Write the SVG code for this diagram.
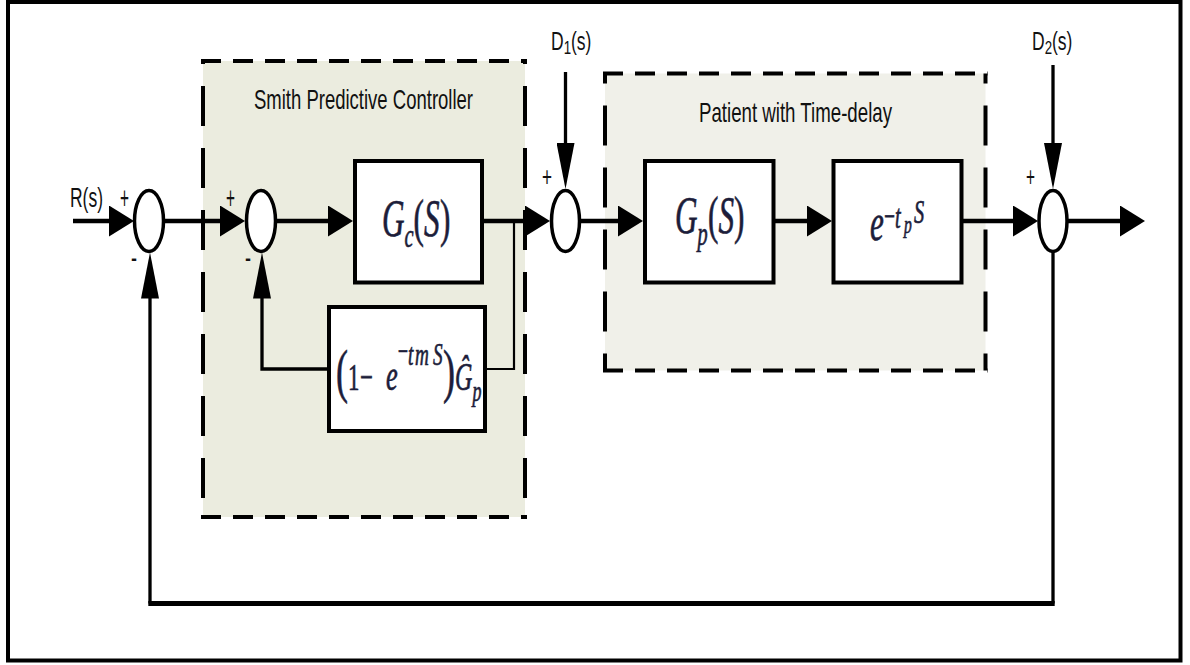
<svg xmlns="http://www.w3.org/2000/svg" width="1190" height="665" viewBox="0 0 1190 665">
  <defs>
    <!-- short, wide head for the horizontal signal lines -->
    <marker id="ah" markerUnits="userSpaceOnUse" viewBox="0 0 25 31" refX="15" refY="15.5" markerWidth="25" markerHeight="31" orient="auto">
      <path d="M0,0 L25,15.5 L0,31 Z" fill="#000"/>
    </marker>
    <!-- long, narrow head for the vertical signal lines -->
    <marker id="av" markerUnits="userSpaceOnUse" viewBox="0 0 46 18" refX="34" refY="9" markerWidth="46" markerHeight="18" orient="auto">
      <path d="M0,0 L46,9 L0,18 Z" fill="#000"/>
    </marker>
    <style>
      .frame { fill: #fff; stroke: #000; stroke-width: 4; }
      .hdash { stroke: #000; stroke-width: 4; stroke-dasharray: 20 12; fill: none; }
      .vdash { stroke: #000; stroke-width: 4; stroke-dasharray: 40 22; fill: none; }
      .blk { fill: #fff; stroke: #000; stroke-width: 4; }
      .sum { fill: #fff; stroke: #000; stroke-width: 3.5; }
      .w { fill: none; stroke: #000; stroke-width: 4.5; }
      .thin { fill: none; stroke: #000; stroke-width: 2.2; }
      .mid { fill: none; stroke: #000; stroke-width: 3.3; }
      .fbh { fill: none; stroke: #000; stroke-width: 5; }
      .arr { marker-end: url(#ah); }
      .arrv { marker-end: url(#av); }
      .lbl { font-family: "Liberation Sans", Arial, sans-serif; fill: #111; }
      .m { font-family: "Liberation Serif", "DejaVu Serif", serif; font-style: italic; fill: #1c1d3a; stroke: #1c1d3a; stroke-width: 0.7; }
      .up { font-style: normal; }
    </style>
  </defs>

  <!-- outer frame -->
  <rect class="frame" x="8" y="2" width="1172.5" height="658.5"/>

  <!-- Smith predictive controller region -->
  <g id="smith-region">
    <rect x="203" y="61" width="322" height="456" fill="#ebecdf"/>
    <line class="hdash" x1="201" y1="61" x2="527" y2="61"/>
    <line class="hdash" x1="201" y1="517" x2="527" y2="517"/>
    <line class="vdash" x1="203" y1="61" x2="203" y2="517" stroke-dashoffset="37"/>
    <line class="vdash" x1="525" y1="61" x2="525" y2="517" stroke-dashoffset="37"/>
    <text class="lbl" x="254" y="108.5" font-size="28" textLength="219" lengthAdjust="spacingAndGlyphs">Smith Predictive Controller</text>
  </g>

  <!-- plant region -->
  <g id="patient-region">
    <rect x="605" y="73.5" width="380.5" height="297" fill="#f0f0e9"/>
    <line class="hdash" x1="603" y1="73.5" x2="987.5" y2="73.5"/>
    <line class="hdash" x1="603" y1="370.5" x2="987.5" y2="370.5"/>
    <line class="vdash" x1="605" y1="73.5" x2="605" y2="370.5" stroke-dashoffset="30"/>
    <line class="vdash" x1="985.5" y1="73.5" x2="985.5" y2="370.5" stroke-dashoffset="30"/>
    <text class="lbl" x="699" y="121.5" font-size="28" textLength="193" lengthAdjust="spacingAndGlyphs">Patient with Time-delay</text>
  </g>

  <!-- signal lines -->
  <g id="connectors">
    <path class="w arr" d="M73,221 H124"/>
    <path class="w arr" d="M164,221 H235"/>
    <path class="w arr" d="M276,221 H343"/>
    <path class="w arr" d="M482,221 H540"/>
    <path class="thin" d="M514,221 V369 H487"/>
    <path class="mid arrv" d="M329,369 H262 V264.5"/>
    <path class="mid arrv" d="M565.5,72 V177"/>
    <path class="w arr" d="M580,221 H633"/>
    <path class="w arr" d="M773.5,221 H822"/>
    <path class="w arr" d="M961.5,221 H1028"/>
    <path class="mid arrv" d="M1053,65 V177"/>
    <path class="w arr" d="M1067,221 H1135"/>
    <path class="mid" d="M1053,252 V603.5"/>
    <path class="fbh" d="M1054.7,603.5 H148.3"/>
    <path class="mid arrv" d="M150,603.5 V264.5"/>
  </g>

  <!-- input / disturbance labels -->
  <g id="labels">
    <text class="lbl" x="70" y="207" font-size="27" textLength="33" lengthAdjust="spacingAndGlyphs">R(s)</text>
    <text class="lbl" font-size="25" transform="translate(551,50) scale(0.7,1)">D<tspan font-size="19" dy="4">1</tspan><tspan dy="-4">(s)</tspan></text>
    <text class="lbl" font-size="25" transform="translate(1032,50) scale(0.7,1)">D<tspan font-size="19" dy="4">2</tspan><tspan dy="-4">(s)</tspan></text>
  </g>

  <!-- summing junctions -->
  <g id="sum1">
    <ellipse class="sum" cx="149" cy="221" rx="14.5" ry="30.5"/>
    <text class="lbl" x="120" y="208.7" font-size="32" textLength="9" lengthAdjust="spacingAndGlyphs">+</text>
    <text class="lbl" x="131" y="267.5" font-size="32" textLength="6" lengthAdjust="spacingAndGlyphs">-</text>
  </g>
  <g id="sum2">
    <ellipse class="sum" cx="261" cy="221" rx="14.5" ry="30.5"/>
    <text class="lbl" x="226" y="208.7" font-size="32" textLength="9" lengthAdjust="spacingAndGlyphs">+</text>
    <text class="lbl" x="245" y="267.5" font-size="32" textLength="6" lengthAdjust="spacingAndGlyphs">-</text>
  </g>
  <g id="sum3">
    <ellipse class="sum" cx="565.5" cy="221" rx="14" ry="30.5"/>
    <text class="lbl" x="542" y="185.5" font-size="28" textLength="10" lengthAdjust="spacingAndGlyphs">+</text>
  </g>
  <g id="sum4">
    <ellipse class="sum" cx="1053" cy="221" rx="14" ry="30.5"/>
    <text class="lbl" x="1026" y="185.5" font-size="28" textLength="9" lengthAdjust="spacingAndGlyphs">+</text>
  </g>

  <!-- controller block -->
  <g id="gc">
    <rect class="blk" x="355" y="161" width="127" height="121.5"/>
    <text class="m" transform="scale(0.6,1)"><tspan x="636.7" y="236" font-size="52">G</tspan><tspan x="674.2" y="247" font-size="34">c</tspan><tspan class="up" x="689.2" y="236" font-size="52">(</tspan><tspan x="706.7" y="236" font-size="52">S</tspan><tspan class="up" x="733.3" y="236" font-size="52">)</tspan></text>
  </g>

  <!-- predictor feedback block -->
  <g id="predictor">
    <rect class="blk" x="329" y="307" width="156" height="124"/>
    <text class="m" transform="scale(0.6,1)"><tspan class="up" x="560" y="391" font-size="60">(</tspan><tspan class="up" x="580" y="390" font-size="38">1</tspan><tspan class="up" x="600" y="390" font-size="38">−</tspan><tspan x="643.3" y="390" font-size="44">e</tspan><tspan class="up" x="663.3" y="361" font-size="30">−</tspan><tspan x="680" y="365" font-size="32">t</tspan><tspan x="691.7" y="365" font-size="32">m</tspan><tspan x="721.7" y="365" font-size="32">S</tspan><tspan class="up" x="738.3" y="391" font-size="60">)</tspan><tspan x="758.3" y="390" font-size="40">Ĝ</tspan><tspan x="787.5" y="401" font-size="30">p</tspan></text>
  </g>

  <!-- plant block -->
  <g id="gp">
    <rect class="blk" x="645" y="161" width="128.5" height="121.5"/>
    <text class="m" transform="scale(0.6,1)"><tspan x="1125" y="233" font-size="52">G</tspan><tspan x="1162.5" y="245" font-size="34">p</tspan><tspan class="up" x="1180" y="233" font-size="52">(</tspan><tspan x="1197.3" y="233" font-size="52">S</tspan><tspan class="up" x="1223.3" y="233" font-size="52">)</tspan></text>
  </g>

  <!-- transport delay block -->
  <g id="delay">
    <rect class="blk" x="833.5" y="161" width="128" height="121.5"/>
    <text class="m" transform="scale(0.6,1)"><tspan x="1450" y="240" font-size="52">e</tspan><tspan class="up" x="1473.3" y="227" font-size="32">−</tspan><tspan x="1491.7" y="228" font-size="34">t</tspan><tspan x="1506.7" y="233" font-size="26">p</tspan><tspan x="1523.3" y="223" font-size="34">S</tspan></text>
  </g>
</svg>
